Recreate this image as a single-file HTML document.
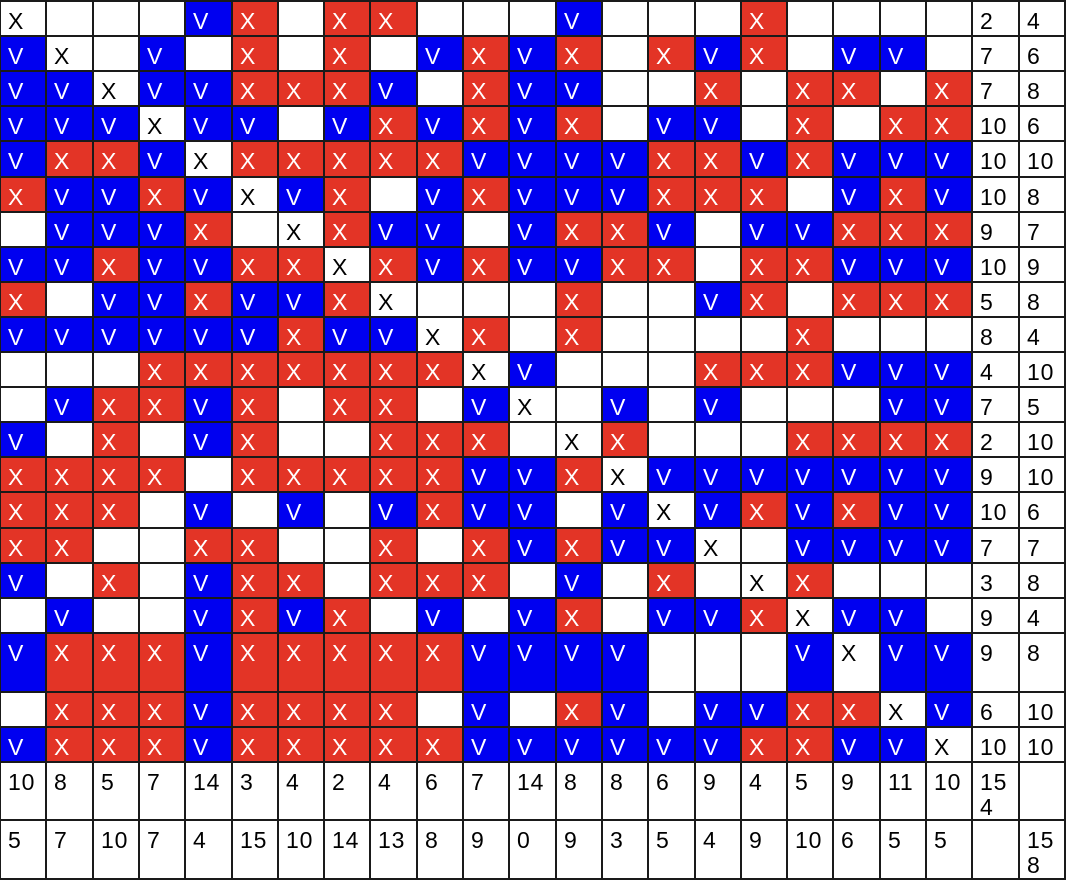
<!DOCTYPE html>
<html><head><meta charset="utf-8">
<style>
html,body{margin:0;padding:0;background:#fff;}
#grid{position:absolute;left:0;top:0;width:1072px;height:886px;font-family:"Liberation Sans",Arial,sans-serif;}
.c{position:absolute;box-sizing:border-box;font-size:23px;letter-spacing:0.8px;line-height:25px;padding:7px 0 0 7px;white-space:pre;color:#000;background:#fff;}
.v{background:#0000f0;color:#fff;}
.x{background:#e33426;color:#fff;}
.line{position:absolute;background:#1a1a1a;}
</style></head>
<body>
<div id="grid"></div>
<script>
// grid rows: V = blue check, X = red cross, D = diagonal (black X on white), _ = empty
const gridRows = [
"D___VX_XX___V___X____",
"VD_V_X_X_VXVX_XVX_VV_",
"VVDVVXXXV_XVV__X_XX_X",
"VVVDVV_VXVXVX_VV_X_XX",
"VXXVDXXXXXVVVVXXVXVVV",
"XVVXVDVX_VXVVVXXX_VXV",
"_VVVX_DXVV_VXXV_VVXXX",
"VVXVVXXDXVXVVXX_XXVVV",
"X_VVXVVXD___X__VX_XXX",
"VVVVVVXVVDX_X____X___",
"___XXXXXXXDV___XXXVVV",
"_VXXVX_XX_VD_V_V___VV",
"V_X_VX__XXX_DX___XXXX",
"XXXX_XXXXXVVXDVVVVVVV",
"XXX_V_V_VXVV_VDVXVXVV",
"XX__XX__X_XVXVVD_VVVV",
"V_X_VXX_XXX_V_X_DX___",
"_V__VXVX_V_VX_VVXDVV_",
"VXXXVXXXXXVVVV___VDVV",
"_XXXVXXXX_V_XV_VVXXDV",
"VXXXVXXXXXVVVVVVXXVVD"
];
const rowVCounts = [2,7,7,10,10,10,9,10,5,8,4,7,2,9,10,7,3,9,9,6,10];
const rowXCounts = [4,6,8,6,10,8,7,9,8,4,10,5,10,10,6,7,8,4,8,10,10];
const colSum1 = ["10","8","5","7","14","3","4","2","4","6","7","14","8","8","6","9","4","5","9","11","10","15\n4",""];
const colSum2 = ["5","7","10","7","4","15","10","14","13","8","9","0","9","3","5","4","9","10","6","5","5","","15\n8"];

const g = document.getElementById('grid');
const CW = 46.3;
const colEdge = i => Math.round(i * CW);
const rowEdges = [];
for (let i = 0; i <= 18; i++) rowEdges.push(Math.round(1 + i * 35.1));
rowEdges.push(692, 727, 762, 820, 879);
const right = colEdge(23);

function cell(r, c, text, cls, name) {
  const d = document.createElement('div');
  d.className = 'c ' + cls;
  const x0 = colEdge(c), x1 = colEdge(c + 1);
  d.style.left = (x0 + 1) + 'px';
  d.style.top = (rowEdges[r] + 1) + 'px';
  d.style.width = (x1 - x0 - 2) + 'px';
  d.style.height = (rowEdges[r + 1] - rowEdges[r] - 2) + 'px';
  d.textContent = text;
  
  
  g.appendChild(d);
}
const bg = document.createElement('div');
bg.className = 'line';
bg.style.left = '0px'; bg.style.top = (rowEdges[0] - 1) + 'px';
bg.style.width = (right + 1) + 'px';
bg.style.height = (rowEdges[rowEdges.length - 1] - rowEdges[0] + 2) + 'px';


g.appendChild(bg);

gridRows.forEach((row, r) => {
  for (let c = 0; c < 21; c++) {
    const ch = row[c];
    if (ch === 'V') cell(r, c, 'V', 'v', 'v-cell');
    else if (ch === 'X') cell(r, c, 'X', 'x', 'x-cell');
    else if (ch === 'D') cell(r, c, 'X', '', 'diagonal-cell');
    else cell(r, c, '', '', 'empty-cell');
  }
  cell(r, 21, String(rowVCounts[r]), '', 'row-v-count');
  cell(r, 22, String(rowXCounts[r]), '', 'row-x-count');
});
for (let c = 0; c < 23; c++) {
  cell(21, c, colSum1[c], '', 'column-sum-1');
  cell(22, c, colSum2[c], '', 'column-sum-2');
}
</script>
</body></html>
